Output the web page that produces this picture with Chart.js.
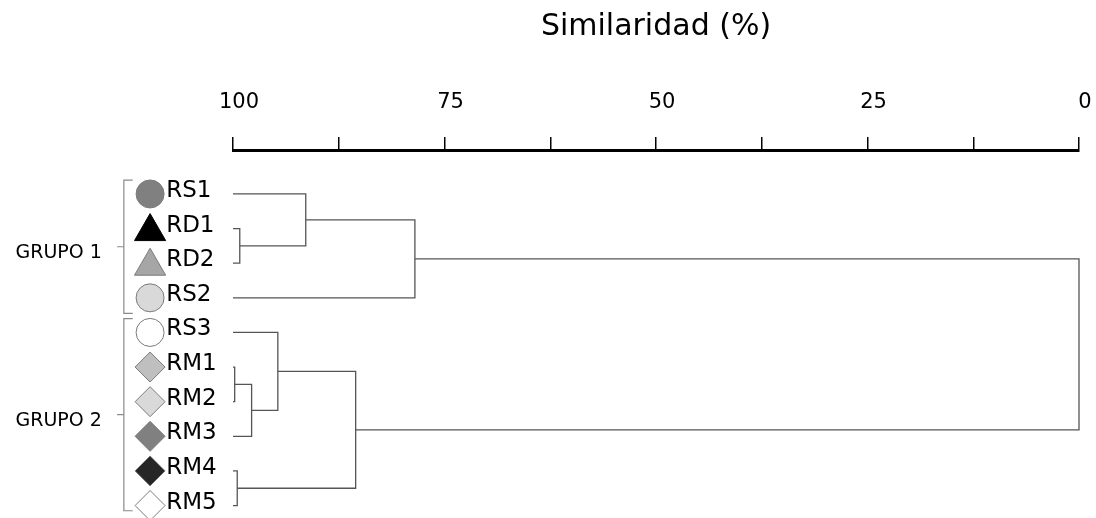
<!DOCTYPE html>
<html>
<head>
<meta charset="utf-8">
<script src="https://cdn.jsdelivr.net/npm/chart.js@4/dist/chart.umd.min.js"></script>
<style>
  html, body { margin: 0; padding: 0; background: #ffffff; overflow: hidden; }
  #wrap { position: relative; width: 1096px; height: 518px; }
  canvas { display: block; }
</style>
</head>
<body>
<div id="wrap"><canvas id="c"></canvas></div>
<script>
// ---- data ----
const leafNames  = ['RS1', 'RD1', 'RD2', 'RS2', 'RS3', 'RM1', 'RM2', 'RM3', 'RM4', 'RM5'];
const leafShapes = ['circle', 'triangle', 'triangle', 'circle', 'circle', 'rectRot', 'rectRot', 'rectRot', 'rectRot', 'rectRot'];
const leafFills  = ['#808080', '#000000', '#a6a6a6', '#d9d9d9', '#ffffff', '#bfbfbf', '#d9d9d9', '#808080', '#262626', '#ffffff'];
// merges: [childA, childB, similarity %]; leaves are 0..9, new nodes get ids 10, 11, ...
const merges = [
  [1, 2, 99.2],    // 10: RD1 + RD2
  [0, 10, 91.4],   // 11: RS1 + (RD1,RD2)
  [11, 3, 78.5],   // 12: + RS2  (GRUPO 1)
  [5, 6, 99.8],    // 13: RM1 + RM2
  [13, 7, 97.8],   // 14: + RM3
  [4, 14, 94.7],   // 15: RS3 + ...
  [8, 9, 99.5],    // 16: RM4 + RM5
  [15, 16, 85.5],  // 17: GRUPO 2
  [12, 17, 0]      // 18: root
];
const groupNames = ['GRUPO 1', 'GRUPO 2'];
const groupSpans = [[-0.4, 3.45], [3.6, 9.15]];
const tickValues = [100, 75, 50, 25, 0];
const axisTitle = 'Similaridad (%)';

// ---- build dendrogram segments ----
const nodeX = leafNames.map(() => 100);
const nodeY = leafNames.map((_, i) => i);
const linkSets = [];
merges.forEach(([a, b, s]) => {
  linkSets.push({
    type: 'line',
    data: [
      {x: nodeX[a], y: nodeY[a]},
      {x: s, y: nodeY[a]},
      {x: s, y: nodeY[b]},
      {x: nodeX[b], y: nodeY[b]}
    ],
    borderColor: '#555555',
    borderWidth: 1.3,
    pointRadius: 0,
    fill: false,
    tension: 0,
    clip: false
  });
  nodeX.push(s);
  nodeY.push((nodeY[a] + nodeY[b]) / 2);
});

const FONT = "'DejaVu Sans', sans-serif";
const MARKER_X = 109.8;   // leaf markers sit left of the 100 % end of the axis
const LABEL_X = 107.9;

function markerPath(ctx, style, r, x, y) {
  ctx.beginPath();
  if (style === 'circle') {
    ctx.arc(x, y, r, 0, Math.PI * 2);
  } else if (style === 'triangle') {
    ctx.moveTo(x, y - r);
    ctx.lineTo(x + r * Math.sin(2 * Math.PI / 3), y - r * Math.cos(2 * Math.PI / 3));
    ctx.lineTo(x + r * Math.sin(4 * Math.PI / 3), y - r * Math.cos(4 * Math.PI / 3));
  } else {
    ctx.moveTo(x - r, y); ctx.lineTo(x, y - r); ctx.lineTo(x + r, y); ctx.lineTo(x, y + r);
  }
  ctx.closePath();
}

const annot = {
  id: 'annot',
  afterDatasetsDraw(chart) {
    const ctx = chart.ctx;
    const xs = chart.scales.x, ys = chart.scales.y;
    ctx.save();
    // leaf markers
    leafNames.forEach((n, i) => {
      const style = leafShapes[i];
      const r = style === 'circle' ? 14 : (style === 'triangle' ? 18 : 15);
      const px = xs.getPixelForValue(MARKER_X), py = ys.getPixelForValue(i);
      ctx.fillStyle = leafFills[i];
      ctx.strokeStyle = leafFills[i] === '#000000' ? '#000000' : '#7a7a7a';
      ctx.lineWidth = 1;
      const cy = style === 'triangle' ? py + 3 : py;
      if (Chart.helpers && Chart.helpers.drawPoint) {
        Chart.helpers.drawPoint(ctx, {pointStyle: style, radius: r, rotation: 0, borderWidth: 1}, px, cy);
      } else {
        markerPath(ctx, style, r, px, cy);
        ctx.fill(); ctx.stroke();
      }
    });
    // leaf labels
    ctx.fillStyle = '#000';
    ctx.font = "23px " + FONT;
    ctx.textAlign = 'left';
    ctx.textBaseline = 'alphabetic';
    leafNames.forEach((n, i) => {
      ctx.fillText(n, xs.getPixelForValue(LABEL_X), ys.getPixelForValue(i) + 3);
    });
    // group brackets
    ctx.strokeStyle = '#8a8a8a';
    ctx.lineWidth = 1.2;
    const bx = xs.getPixelForValue(112.9);
    const stub = xs.getPixelForValue(111.85);
    const mid = xs.getPixelForValue(113.7);
    groupSpans.forEach(([a, b], g) => {
      const y1 = ys.getPixelForValue(a), y2 = ys.getPixelForValue(b);
      const ym = (y1 + y2) / 2;
      ctx.beginPath();
      ctx.moveTo(stub, y1); ctx.lineTo(bx, y1); ctx.lineTo(bx, y2); ctx.lineTo(stub, y2);
      ctx.moveTo(bx, ym); ctx.lineTo(mid, ym);
      ctx.stroke();
      ctx.fillStyle = '#000';
      ctx.font = "19px " + FONT;
      ctx.textAlign = 'right';
      ctx.fillText(groupNames[g], xs.getPixelForValue(115.5), ym + 11);
    });
    ctx.restore();
  }
};

const zeroPad = s => { s.paddingLeft = 0; s.paddingRight = 0; s.paddingTop = 0; s.paddingBottom = 0; };

new Chart(document.getElementById('c'), {
  data: { datasets: linkSets },
  options: {
    responsive: true,
    maintainAspectRatio: false,
    animation: false,
    devicePixelRatio: 1,
    layout: { autoPadding: false, padding: { left: 233, right: 17, top: 9, bottom: 0 } },
    plugins: { legend: { display: false }, tooltip: { enabled: false } },
    scales: {
      x: {
        type: 'linear',
        position: 'top',
        reverse: true,
        min: 0,
        max: 100,
        afterFit: zeroPad,
        border: { display: true, color: '#000', width: 3 },
        grid: { display: true, drawOnChartArea: false, drawTicks: true, tickLength: 13, color: '#000', lineWidth: 1.5 },
        ticks: {
          stepSize: 12.5,
          autoSkip: false,
          maxRotation: 0,
          padding: 21.4,
          labelOffset: 6,
          color: '#000',
          font: { family: FONT, size: 21 },
          callback: v => tickValues.includes(v) ? String(v) : ''
        },
        title: {
          display: true,
          text: axisTitle,
          color: '#000',
          font: { family: FONT, size: 30 },
          padding: { top: 0, bottom: 24 }
        }
      },
      y: {
        type: 'linear',
        display: false,
        reverse: true,
        min: -1.27,
        max: 9.36,
        afterFit: zeroPad
      }
    }
  },
  plugins: [annot]
});
</script>
</body>
</html>
